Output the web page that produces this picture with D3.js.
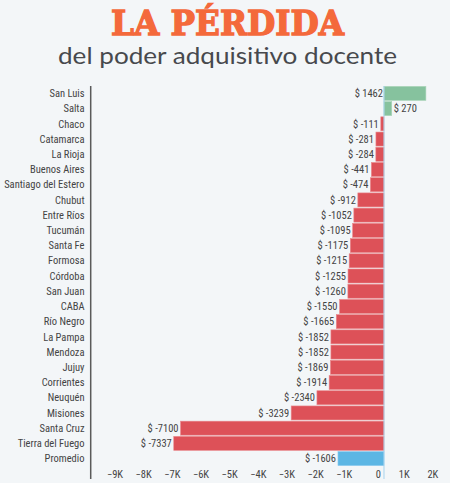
<!DOCTYPE html>
<html>
<head>
<meta charset="utf-8">
<script src="https://cdn.jsdelivr.net/npm/d3@7"></script>
<style>
  html, body { margin: 0; padding: 0; background: #f3f6f8; }
  svg { display: block; }
</style>
</head>
<body>
<svg id="svg" width="450" height="483"></svg>
<script>
// provinces, top to bottom
var provinces = ["San Luis", "Salta", "Chaco", "Catamarca", "La Rioja", "Buenos Aires",
  "Santiago del Estero", "Chubut", "Entre Ríos", "Tucumán", "Santa Fe", "Formosa",
  "Córdoba", "San Juan", "CABA", "Río Negro", "La Pampa", "Mendoza", "Jujuy",
  "Corrientes", "Neuquén", "Misiones", "Santa Cruz", "Tierra del Fuego", "Promedio"];

// change in pesos
var values = [1462, 270, -111, -281, -284, -441, -474, -912, -1052, -1095, -1175, -1215,
  -1255, -1260, -1550, -1665, -1852, -1852, -1869, -1914, -2340, -3239, -7100, -7337, -1606];

var tickValues = [-9000, -8000, -7000, -6000, -5000, -4000, -3000, -2000, -1000, 0, 1000, 2000];

var svg = d3.select("#svg");
var labelFont = "'Liberation Sans Narrow', 'Roboto Condensed', 'Roboto', sans-serif";

var data = provinces.map((p, i) => ({ name: p, value: values[i] }));

var xScale = d3.scaleLinear().domain([-9000, 2000]).range([126.1, 441.3]);
var yScale = d3.scaleBand().domain(provinces).range([86.4, 465.6]).paddingInner(0.08);

// title
svg.append("text")
  .attr("x", 227.5)
  .attr("y", 34.5)
  .attr("text-anchor", "middle")
  .attr("textLength", 233)
  .attr("lengthAdjust", "spacingAndGlyphs")
  .style("font-family", "'DejaVu Serif', serif")
  .style("font-weight", "bold")
  .style("font-size", "33px")
  .style("fill", "#f4693b")
  .style("stroke", "#f4693b")
  .style("stroke-width", 1.3)
  .text("LA PÉRDIDA");

svg.append("text")
  .attr("x", 227.5)
  .attr("y", 63.5)
  .attr("text-anchor", "middle")
  .attr("textLength", 339)
  .attr("lengthAdjust", "spacingAndGlyphs")
  .style("font-family", "Lato, sans-serif")
  .style("font-size", "23.5px")
  .style("fill", "#47494d")
  .text("del poder adquisitivo docente");

// bars
svg.selectAll(".bar")
  .data(data)
  .enter()
  .append("rect")
  .attr("class", "bar")
  .attr("x", d => xScale(Math.min(0, d.value)))
  .attr("y", d => yScale(d.name))
  .attr("width", d => Math.abs(xScale(d.value) - xScale(0)))
  .attr("height", yScale.bandwidth())
  .style("fill", d => d.name == "Promedio" ? "#5cb6e4" : d.value > 0 ? "#86c29e" : "#dd5158")
  .style("stroke", d => d.name == "Promedio" ? "#8ccbee" : d.value > 0 ? "#a9d4b8" : "#e98a8e")
  .style("stroke-width", 0.6);

// zero line
svg.append("line")
  .attr("x1", xScale(0))
  .attr("x2", xScale(0))
  .attr("y1", 86)
  .attr("y2", 479)
  .style("stroke", "#a6d3ee")
  .style("stroke-width", 1);

// value labels: negatives and big positives sit left of the bar, small positives right
svg.selectAll(".value")
  .data(data)
  .enter()
  .append("text")
  .attr("class", "value")
  .attr("x", d => {
    if (d.value < 0) return xScale(d.value) - 2;
    if (xScale(d.value) > 420) return xScale(0) - 1;
    return xScale(d.value) + 2;
  })
  .attr("y", d => yScale(d.name) + yScale.bandwidth() / 2)
  .attr("dy", "0.35em")
  .attr("text-anchor", d => (d.value < 0 || xScale(d.value) > 420) ? "end" : "start")
  .style("font-family", labelFont)
  .style("font-size", "10.5px")
  .style("fill", "#444")
  .text(d => "$ " + d.value);

// province labels
svg.selectAll(".name")
  .data(data)
  .enter()
  .append("text")
  .attr("class", "name")
  .attr("x", 84.5)
  .attr("y", d => yScale(d.name) + yScale.bandwidth() / 2)
  .attr("dy", "0.35em")
  .attr("text-anchor", "end")
  .style("font-family", labelFont)
  .style("font-size", "10.5px")
  .style("fill", "#444")
  .text(d => d.name);

// left axis line
svg.append("line")
  .attr("x1", 90.7)
  .attr("x2", 90.7)
  .attr("y1", 86)
  .attr("y2", 479)
  .style("stroke", "#5a5a5a")
  .style("stroke-width", 1.5);

// x axis tick labels only
var xAxis = svg.append("g")
  .attr("transform", "translate(0, 474)")
  .call(d3.axisBottom(xScale).tickValues(tickValues).tickSize(0)
    .tickFormat(d => d == 0 ? "0" : d3.format("d")(d / 1000) + "K"));
xAxis.select(".domain").remove();
xAxis.selectAll("text")
  .attr("y", 0)
  .attr("dy", "0.35em")
  .attr("dx", -3.5)
  .attr("text-anchor", "end")
  .style("font-family", labelFont)
  .style("font-size", "10.5px")
  .style("fill", "#444");
</script>
</body>
</html>
